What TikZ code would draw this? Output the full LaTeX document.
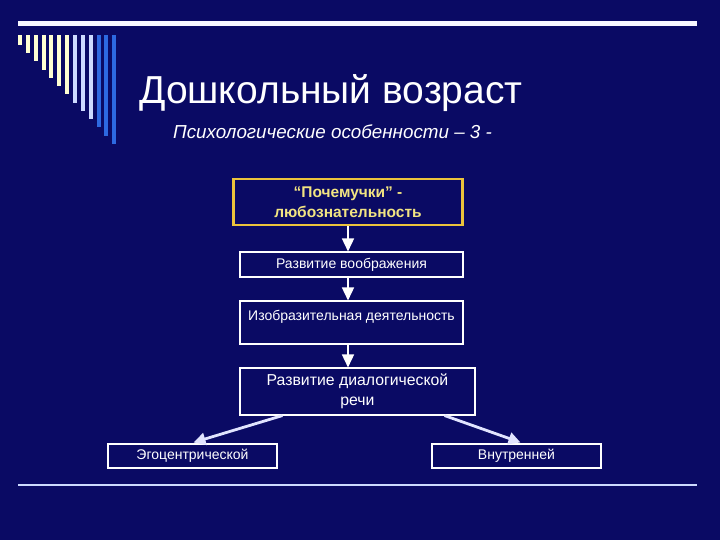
\documentclass[tikz,border=0pt]{standalone}
\usepackage{fontspec}
\setmainfont{Liberation Sans}
\usetikzlibrary{arrows.meta,calc}
\definecolor{bg}{RGB}{10,10,100}
\definecolor{cream}{RGB}{255,255,210}
\definecolor{lav}{RGB}{205,218,255}
\definecolor{barblue}{RGB}{45,105,225}
\definecolor{gold}{RGB}{235,195,60}
\definecolor{paleyel}{RGB}{242,228,130}
\definecolor{arrowc}{RGB}{225,228,255}
\begin{document}
\begin{tikzpicture}[x=1pt,y=-1pt,
  box/.style={draw=white, line width=1.1pt, text=white, inner sep=0pt, align=center,
    font=\fontsize{14}{16}\selectfont},
  varrow/.style={draw=white, line width=1.6pt, -{Triangle[width=12pt,length=13pt]}},
  darrow/.style={draw=arrowc, line width=2.8pt, -{Triangle[width=12pt,length=12pt]}}]
\useasboundingbox (0,0) rectangle (720,540);
\fill[bg] (0,0) rectangle (720,540);
% decorative lines
\fill[white!97!blue] (18,21.5) rectangle (697,26.5);
\fill[lav] (18,484) rectangle (697,486);
% bars
\foreach \i in {0,...,12}{
  \pgfmathsetmacro{\bx}{18+7.85*\i}
  \pgfmathsetmacro{\by}{45+8.25*\i}
  \ifnum\i<7 \def\bc{cream}\else\ifnum\i<10 \def\bc{lav}\else\def\bc{barblue}\fi\fi
  \fill[\bc] (\bx,35) rectangle ({\bx+4},\by);
}
% titles
\node[anchor=base west, text=white, inner sep=0pt, font=\fontsize{39}{44}\selectfont] (title) at (139,104) {Дошкольный возраст};
\node[anchor=base west, text=white, inner sep=0pt, font=\fontsize{18.8}{22}\selectfont\itshape] (sub) at (173,139) {Психологические особенности – 3 -};
% boxes
\node[box, draw=gold, line width=2.2pt, text=paleyel, minimum width=229pt, minimum height=46pt,
  font=\fontsize{15.5}{20}\selectfont\bfseries] (b1) at (348,202) {“Почемучки” -\\любознательность};
\node[box, minimum width=223pt, minimum height=25pt] (b2) at (351.5,264.5) {Развитие воображения};
\node[box, minimum width=223pt, text height=15pt, text depth=20pt, inner ysep=4pt] (b3) at (351.5,322.5) {Изобразительная деятельность};
\node[box, minimum width=235pt, minimum height=47pt, font=\fontsize{15.8}{20}\selectfont] (b4) at (357.5,391.5) {Развитие диалогической\\речи};
\node[box, minimum width=169pt, minimum height=24pt] (b5) at (192.5,456) {Эгоцентрической};
\node[box, minimum width=169pt, minimum height=24pt] (b6) at (516.5,456) {Внутренней};
% arrows
\draw[varrow] (b1.south) -- (b1.south |- b2.north);
\draw[varrow] (b1.south |- b2.south) -- (b1.south |- b3.north);
\draw[varrow] (b1.south |- b3.south) -- (b1.south |- b4.north);
\draw[darrow] ($(b4.south west)+(43,0)$) -- ($(b5.north)+(1,-1)$);
\draw[darrow] ($(b4.south east)+(-31,0)$) -- ($(b6.north)+(4,-1)$);
\end{tikzpicture}
\end{document}
